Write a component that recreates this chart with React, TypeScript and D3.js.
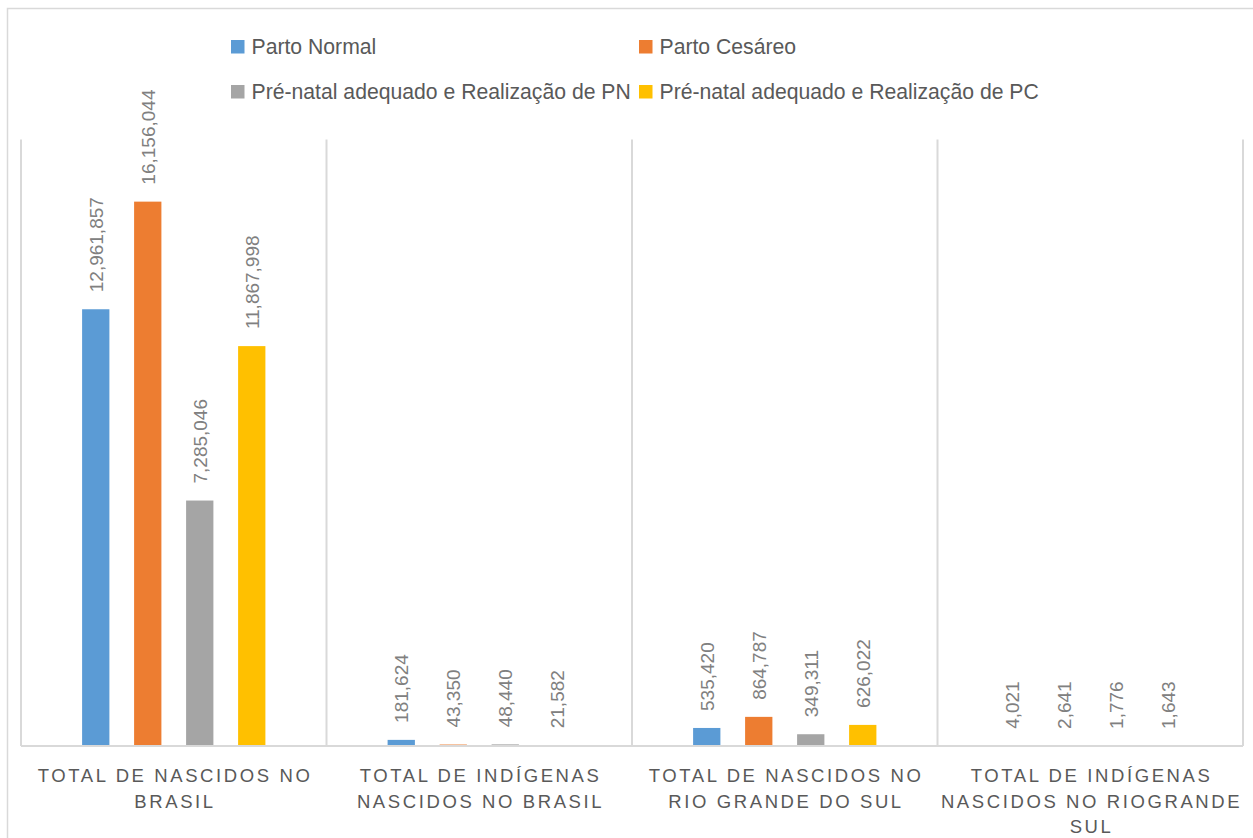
import * as d3 from "d3";

// categories (x axis), one label line per entry
const categories = ["nascidosBR", "indigenasBR", "nascidosRS", "indigenasRS"];
const categoryLines = [
  ["TOTAL DE NASCIDOS NO", "BRASIL"],
  ["TOTAL DE INDÍGENAS", "NASCIDOS NO BRASIL"],
  ["TOTAL DE NASCIDOS NO", "RIO GRANDE DO SUL"],
  ["TOTAL DE INDÍGENAS", "NASCIDOS NO RIOGRANDE", "SUL"],
];

// series
const seriesNames = [
  "Parto Normal",
  "Parto Cesáreo",
  "Pré-natal adequado e Realização de PN",
  "Pré-natal adequado e Realização de PC",
];
const seriesColors = ["#5b9bd5", "#ed7d31", "#a5a5a5", "#ffc000"];

const partoNormal = [12961857, 181624, 535420, 4021];
const partoCesareo = [16156044, 43350, 864787, 2641];
const preNatalPN = [7285046, 48440, 349311, 1776];
const preNatalPC = [11867998, 21582, 626022, 1643];
const seriesValues = [partoNormal, partoCesareo, preNatalPN, preNatalPC];

const yMax = 18000000;

const width = 1253;
const height = 838;

// plot area, in pixels
const plot = { left: 21, right: 1243, top: 139.5, bottom: 746 };

const fontFamily = "'Liberation Sans', Arial, sans-serif";

export default function App() {
  const x0 = d3
    .scaleBand<string>()
    .domain(categories)
    .range([plot.left, plot.right]);

  const x1 = d3
    .scaleBand<number>()
    .domain(d3.range(seriesNames.length))
    .range([0, x0.bandwidth()])
    .paddingInner(0.475)
    .paddingOuter(1.175);

  const y = d3.scaleLinear([0, yMax], [plot.bottom, plot.top]);

  const fmt = d3.format(",");

  const gridX = categories.map((c) => x0(c) as number).concat([plot.right]);

  return (
    <svg
      width={width}
      height={height}
      style={{ position: "absolute", left: 0, top: 0, background: "#fff" }}
      fontFamily={fontFamily}
    >
      <rect width={width} height={height} fill="#fff" />
      {/* chart border, runs off the right and bottom edge */}
      <rect
        x={7.5}
        y={8.5}
        width={width}
        height={height}
        fill="none"
        stroke="#d9d9d9"
        strokeWidth={1.5}
      />

      {/* legend, two columns */}
      {seriesNames.map((name, i) => {
        const lx = i % 2 === 0 ? 231 : 639;
        const ly = i < 2 ? 40 : 85;
        return (
          <g key={name}>
            <rect x={lx} y={ly} width={13.5} height={13.5} fill={seriesColors[i]} />
            <text x={lx + 20.5} y={ly + 14} fontSize={21.2} fill="#595959">
              {name}
            </text>
          </g>
        );
      })}

      {/* vertical gridlines between categories */}
      {gridX.map((gx, i) => (
        <line
          key={i}
          x1={gx}
          x2={gx}
          y1={plot.top}
          y2={plot.bottom}
          stroke="#d9d9d9"
          strokeWidth={2}
        />
      ))}

      {/* bars */}
      {categories.map((c, ci) => (
        <g key={c} transform={`translate(${x0(c)},0)`}>
          {seriesValues.map((vals, si) => (
            <rect
              key={si}
              x={x1(si)}
              y={y(vals[ci])}
              width={x1.bandwidth()}
              height={plot.bottom - y(vals[ci])}
              fill={seriesColors[si]}
            />
          ))}
          {seriesValues.map((vals, si) => {
            const cx = (x1(si) as number) + x1.bandwidth() / 2 + 6.8;
            const ty = y(vals[ci]) - 17;
            return (
              <text
                key={"l" + si}
                transform={`translate(${cx},${ty}) rotate(-90)`}
                fontSize={19}
                fill="#808080"
              >
                {fmt(vals[ci])}
              </text>
            );
          })}
        </g>
      ))}

      {/* baseline */}
      <line
        x1={plot.left}
        x2={plot.right}
        y1={plot.bottom}
        y2={plot.bottom}
        stroke="#d9d9d9"
        strokeWidth={2}
      />

      {/* category labels */}
      {categories.map((c, ci) => {
        const cx = (x0(c) as number) + x0.bandwidth() / 2 + 1.3;
        return (
          <text
            key={c}
            textAnchor="middle"
            fontSize={18.5}
            letterSpacing={2.6}
            fill="#595959"
          >
            {categoryLines[ci].map((line, li) => (
              <tspan key={li} x={cx} y={782 + li * 25.7}>
                {line}
              </tspan>
            ))}
          </text>
        );
      })}
    </svg>
  );
}
